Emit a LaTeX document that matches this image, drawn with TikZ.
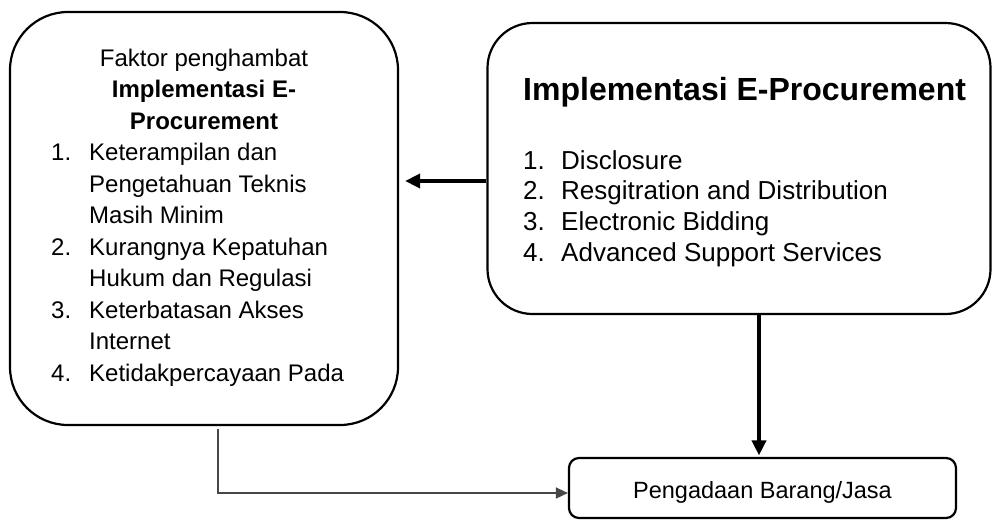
\documentclass[tikz,border=0pt]{standalone}
\usepackage{fontspec}
\setmainfont{Liberation Sans}
\usetikzlibrary{arrows.meta}
\begin{document}
\begin{tikzpicture}[x=1pt,y=-1pt,
  box/.style={draw=black,line width=2.2pt,rounded corners=#1,inner sep=0pt},
  txt/.style={inner sep=0pt,anchor=base west,font=\fontsize{24}{28}\selectfont},
  txtc/.style={inner sep=0pt,anchor=base,font=\fontsize{24}{28}\selectfont},
  rtxt/.style={inner sep=0pt,anchor=base west,font=\fontsize{26}{30}\selectfont},
  thickarr/.style={line width=3.6pt,-{Triangle[length=15pt,width=14pt]}},
  thinarr/.style={line width=1.6pt,-{Triangle[length=12pt,width=11pt]},color=black!72}
]
\useasboundingbox (0,0) rectangle (992,520);

% boxes
\node[box=58pt,minimum width=388pt,minimum height=413pt] (left) at (204,218.5) {};
\node[box=45pt,minimum width=503pt,minimum height=291pt] (right) at (739,168.5) {};
\node[box=10pt,minimum width=387pt,minimum height=60pt] (bottom) at (762.5,488) {};

% left box text
\node[txtc] (l0) at (204,66) {Faktor penghambat};
\node[txtc] (l1) at (204,97.5) {\bfseries Implementasi E-};
\node[txtc] (l2) at (204,129) {\bfseries Procurement};
\node[txt] (n1) at (51,160.5) {1.};
\node[txt] (t1a) at (89,160.5) {Keterampilan dan};
\node[txt] (t1b) at (89,192) {Pengetahuan Teknis};
\node[txt] (t1c) at (89,223.5) {Masih Minim};
\node[txt] (n2) at (51,255) {2.};
\node[txt] (t2a) at (89,255) {Kurangnya Kepatuhan};
\node[txt] (t2b) at (89,286.5) {Hukum dan Regulasi};
\node[txt] (n3) at (51,318) {3.};
\node[txt] (t3a) at (89,318) {Keterbatasan Akses};
\node[txt] (t3b) at (89,349.5) {Internet};
\node[txt] (n4) at (51,381) {4.};
\node[txt] (t4a) at (89,381) {Ketidakpercayaan Pada};

% right box text
\node[inner sep=0pt,anchor=base west,font=\fontsize{32}{36}\selectfont\bfseries] (rt) at (523,100) {Implementasi E-Procurement};
\node[rtxt] (r1n) at (523,169) {1.};
\node[rtxt] (r1) at (561,169) {Disclosure};
\node[rtxt] (r2n) at (523,199.7) {2.};
\node[rtxt] (r2) at (561,199.7) {Resgitration and Distribution};
\node[rtxt] (r3n) at (523,230.4) {3.};
\node[rtxt] (r3) at (561,230.4) {Electronic Bidding};
\node[rtxt] (r4n) at (523,261) {4.};
\node[rtxt] (r4) at (561,261) {Advanced Support Services};

% bottom box text
\node[inner sep=0pt,anchor=base,font=\fontsize{23.5}{27}\selectfont] (bt) at (762.5,498) {Pengadaan Barang/Jasa};

% connectors
\coordinate (a1) at ([yshift=-12.5pt]right.west);
\draw[thickarr,shorten >=6pt] (a1) -- (a1 -| left.east);
\coordinate (a2) at ([xshift=20pt]right.south);
\draw[thickarr,shorten >=1.5pt] (a2) -- (a2 |- bottom.north);
\coordinate (a3) at ([xshift=14pt,yshift=-3pt]left.south);
\coordinate (a4) at ([yshift=-5pt]bottom.west);
\draw[thinarr] (a3) |- (a4);
\end{tikzpicture}
\end{document}
